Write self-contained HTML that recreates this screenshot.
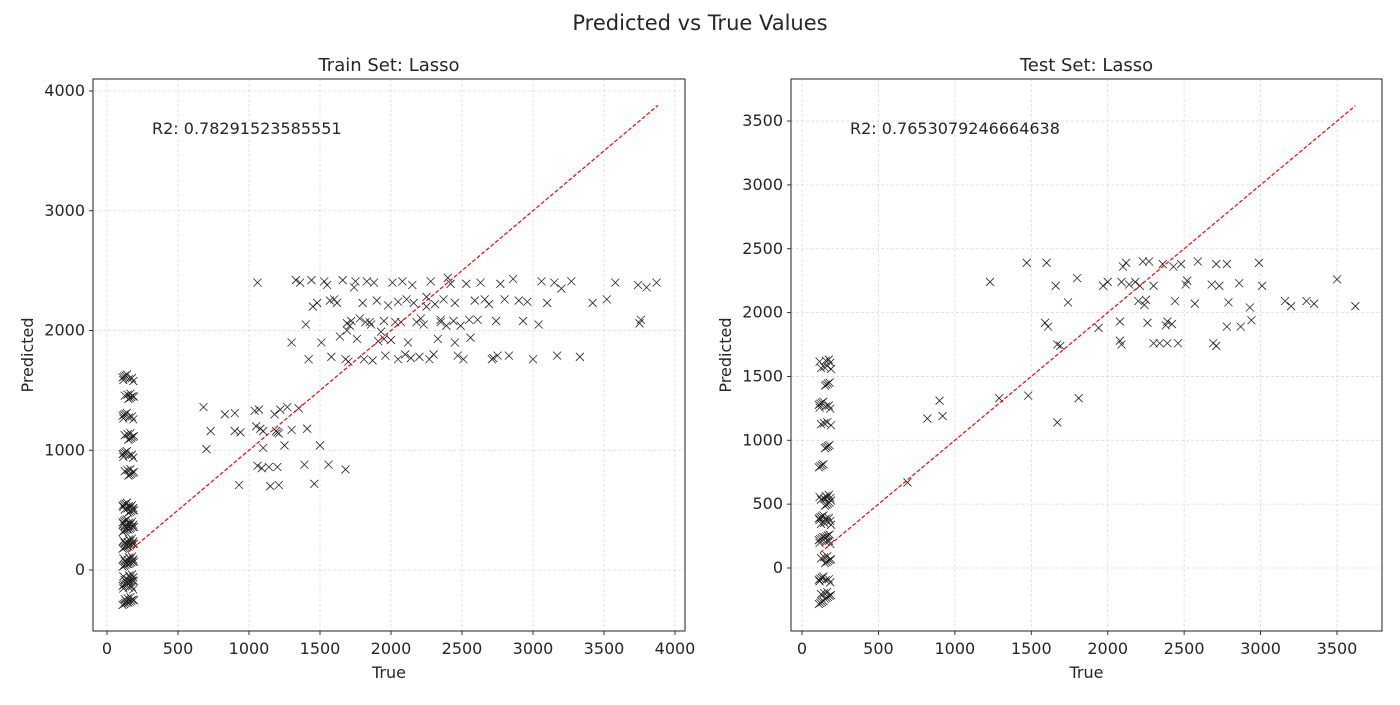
<!DOCTYPE html>
<html><head><meta charset="utf-8"><style>
body{margin:0;background:#fff;}
svg text{font-family:"DejaVu Sans","Liberation Sans",sans-serif;fill:#262626;}
</style></head><body>
<svg id="chart" width="1400" height="700" xmlns="http://www.w3.org/2000/svg">
<text x="700" y="30" font-size="21" text-anchor="middle">Predicted vs True Values</text>
</svg>
<script>
const lowX=[110,120,130,140,150,160,170,180,190,125,145,165,185,115,155,175];
const lowYTrain=[-280,-260,-240,-150,-120,-100,-80,-50,40,60,80,100,190,210,230,250,330,350,370,390,410,490,510,530,550,800,830,950,980,1100,1130,1270,1300,1440,1460,1590,1620];
const lowYTest=[-270,-230,-200,-100,-80,50,80,200,230,250,350,380,400,500,540,560,800,950,1130,1260,1290,1440,1570,1620];
const trainMidX=[680,700,730,830,900,900,930,940,1040,1050,1060,1070,1080,1090,1100,1100,1140,1150,1180,1190,1200,1200,1210,1210,1220,1250,1270,1300,1350,1390,1410,1460,1500,1560,1680,1060];
const trainMidY=[1360,1010,1160,1300,1310,1160,710,1150,1330,1200,870,1340,1180,850,1020,1160,860,700,1300,1160,1150,860,710,1140,1340,1040,1360,1170,1350,880,1180,720,1040,880,840,2400];
const trainUpX=[1300,1330,1360,1400,1420,1440,1450,1480,1510,1530,1550,1580,1600,1620,1640,1660,1680,1690,1700,1710,1720,1740,1750,1760,1780,1800,1810,1830,1850,1860,1870,1880,1900,1910,1930,1950,1960,1980,2000,2010,2030,2050,2070,2080,2100,2110,2120,2140,2160,2180,2200,2210,2230,2250,2270,2280,2300,2310,2330,2350,2370,2390,2400,2420,2440,2450,2470,2490,2510,2530,2560,2590,2610,2630,2660,2690,2710,2720,2740,2770,2800,2830,2860,2900,2930,2960,3000,3040,3060,3100,3150,3170,3200,3270,3330,3420,3520,3580,3740,3750,3760,3800,3870,1570,1950,2150,2350,2550,2750,2050,1820,2450,2250,1690];
const trainUpY=[1900,2420,2400,2050,1760,2420,2200,2230,1900,2410,2380,1780,2260,2230,1950,2420,1760,2060,1740,2040,2080,2360,2410,1930,2100,2230,1760,2410,2070,2050,1750,2400,2250,1910,1990,2080,1790,2210,1920,2400,2070,1760,2070,2410,1800,2260,1900,1770,2230,2070,1780,2100,2050,2200,1760,2410,1800,2220,1930,2090,2260,2040,2440,2390,2080,2230,1790,2040,1760,2390,1940,2250,2090,2400,2260,2220,1760,1770,2080,2390,2260,1790,2430,2250,2080,2240,1760,2050,2410,2230,2400,1790,2350,2410,1780,2230,2260,2400,2380,2060,2090,2360,2400,2250,1930,2380,2070,2090,1790,2240,2070,1900,2280,2000,1760];
const testMidX=[690,820,900,920,1230,1290,1470,1480,1590,1600,1610,1660,1670,1670,1690,1740,1800,1810,1940,1970,2000,2080,2080,2090,2090,2100,2120,2140,2180,2200,2210,2230,2240,2250,2260,2270,2300,2300,2340,2360,2380,2390,2390,2420,2430,2440,2460,2480,2510,2520,2570,2590,2680,2690,2710,2710,2730,2780,2780,2790,2860,2870,2930,2940,2990,3010,3160,3200,3300,3350,3500,3620];
const testMidY=[670,1170,1310,1190,2240,1330,2390,1350,1920,2390,1890,2210,1750,1140,1740,2080,2270,1330,1880,2210,2240,1930,1780,1750,2240,2360,2390,2220,2240,2090,2210,2400,2060,2100,1920,2400,2210,1760,1760,2380,1900,1930,1760,1910,2360,2090,1760,2380,2220,2250,2070,2400,2220,1760,1740,2380,2210,1890,2380,2080,2230,1890,2040,1940,2390,2210,2090,2050,2090,2070,2260,2050];
const trainXTicks=[0,500,1000,1500,2000,2500,3000,3500,4000];
const trainYTicks=[0,1000,2000,3000,4000];
const testXTicks=[0,500,1000,1500,2000,2500,3000,3500];
const testYTicks=[0,500,1000,1500,2000,2500,3000,3500];

const svg=document.getElementById('chart');
const NS='http://www.w3.org/2000/svg';
function mk(t,a,p){const e=document.createElementNS(NS,t);for(const k in a)e.setAttribute(k,a[k]);(p||svg).appendChild(e);return e;}

function panel(o){
  const g=mk('g',{});
  
  
  const sx=v=>o.x0+(v-o.xa)*o.xs, sy=v=>o.y0-(v-o.ya)*o.ys;
  o.xt.forEach(t=>{const x=sx(t);
    const l=mk('line',{x1:x,x2:x,y1:o.top,y2:o.bot,stroke:'#dcdcdc','stroke-width':0.8,'stroke-dasharray':'3,2'},g);
    
    mk('line',{x1:x,x2:x,y1:o.bot,y2:o.bot+4,stroke:'#333'},g);
    const tx=mk('text',{x:x,y:o.bot+23,'font-size':16,'text-anchor':'middle'},g);tx.textContent=t;
    });
  o.yt.forEach(t=>{const y=sy(t);
    const l=mk('line',{x1:o.left,x2:o.right,y1:y,y2:y,stroke:'#dcdcdc','stroke-width':0.8,'stroke-dasharray':'3,2'},g);
    
    mk('line',{x1:o.left-4,x2:o.left,y1:y,y2:y,stroke:'#333'},g);
    const tx=mk('text',{x:o.left-8,y:y+5,'font-size':16,'text-anchor':'end'},g);tx.textContent=t;
    });
  const pts=mk('g',{stroke:'#222','stroke-width':0.8,fill:'none'},g);
  
  const draw=(xs,ys)=>{for(let i=0;i<xs.length;i++){const x=sx(xs[i]),y=sy(ys[i]);
    const p=mk('path',{d:`M${x-4},${y-4}L${x+4},${y+4}M${x-4},${y+4}L${x+4},${y-4}`},pts);
    }};
  o.sets.forEach(s=>draw(s[0],s[1]));
  const ln=mk('line',{x1:sx(o.l0),y1:sy(o.l0),x2:sx(o.l1),y2:sy(o.l1),stroke:'#ff0000','stroke-width':1.2,'stroke-dasharray':'4,2'},g);
  
  const fr=mk('rect',{x:o.left,y:o.top,width:o.right-o.left,height:o.bot-o.top,fill:'none',stroke:'#222','stroke-width':1},g);
  
  const ti=mk('text',{x:(o.left+o.right)/2,y:o.top-8,'font-size':18,'text-anchor':'middle'},g);ti.textContent=o.title;
  
  const r2=mk('text',{x:o.r2x,y:o.r2y,'font-size':16},g);r2.textContent=o.r2;
  
  const xl=mk('text',{x:(o.left+o.right)/2,y:678,'font-size':16,'text-anchor':'middle'},g);xl.textContent='True';
  
  const cy=(o.top+o.bot)/2;
  const yl=mk('text',{x:o.left-60,y:cy,'font-size':16,'text-anchor':'middle',transform:`rotate(-90 ${o.left-60} ${cy})`},g);yl.textContent='Predicted';
  
}
function lowSet(ys){const xs=[],yy=[];ys.forEach((y,i)=>{for(let k=0;k<4;k++){xs.push(lowX[(i*4+k)%lowX.length]);yy.push(y+(k-1.5)*8);}});return [xs,yy];}
panel({name:'train-panel',title:'Train Set: Lasso',left:93,right:685,top:79,bot:631,x0:107,xa:0,xs:0.142,y0:570,ya:0,ys:0.11975,
  xt:trainXTicks,yt:trainYTicks,sets:[lowSet(lowYTrain),[trainMidX,trainMidY],[trainUpX,trainUpY]],l0:150,l1:3880,
  r2:'R2: 0.78291523585551',r2x:152,r2y:134});
panel({name:'test-panel',title:'Test Set: Lasso',left:791,right:1382,top:79,bot:631,x0:802,xa:0,xs:0.15286,y0:568,ya:0,ys:0.1277,
  xt:testXTicks,yt:testYTicks,sets:[lowSet(lowYTest),[testMidX,testMidY]],l0:120,l1:3620,
  r2:'R2: 0.7653079246664638',r2x:850,r2y:134});
</script>
</body></html>
